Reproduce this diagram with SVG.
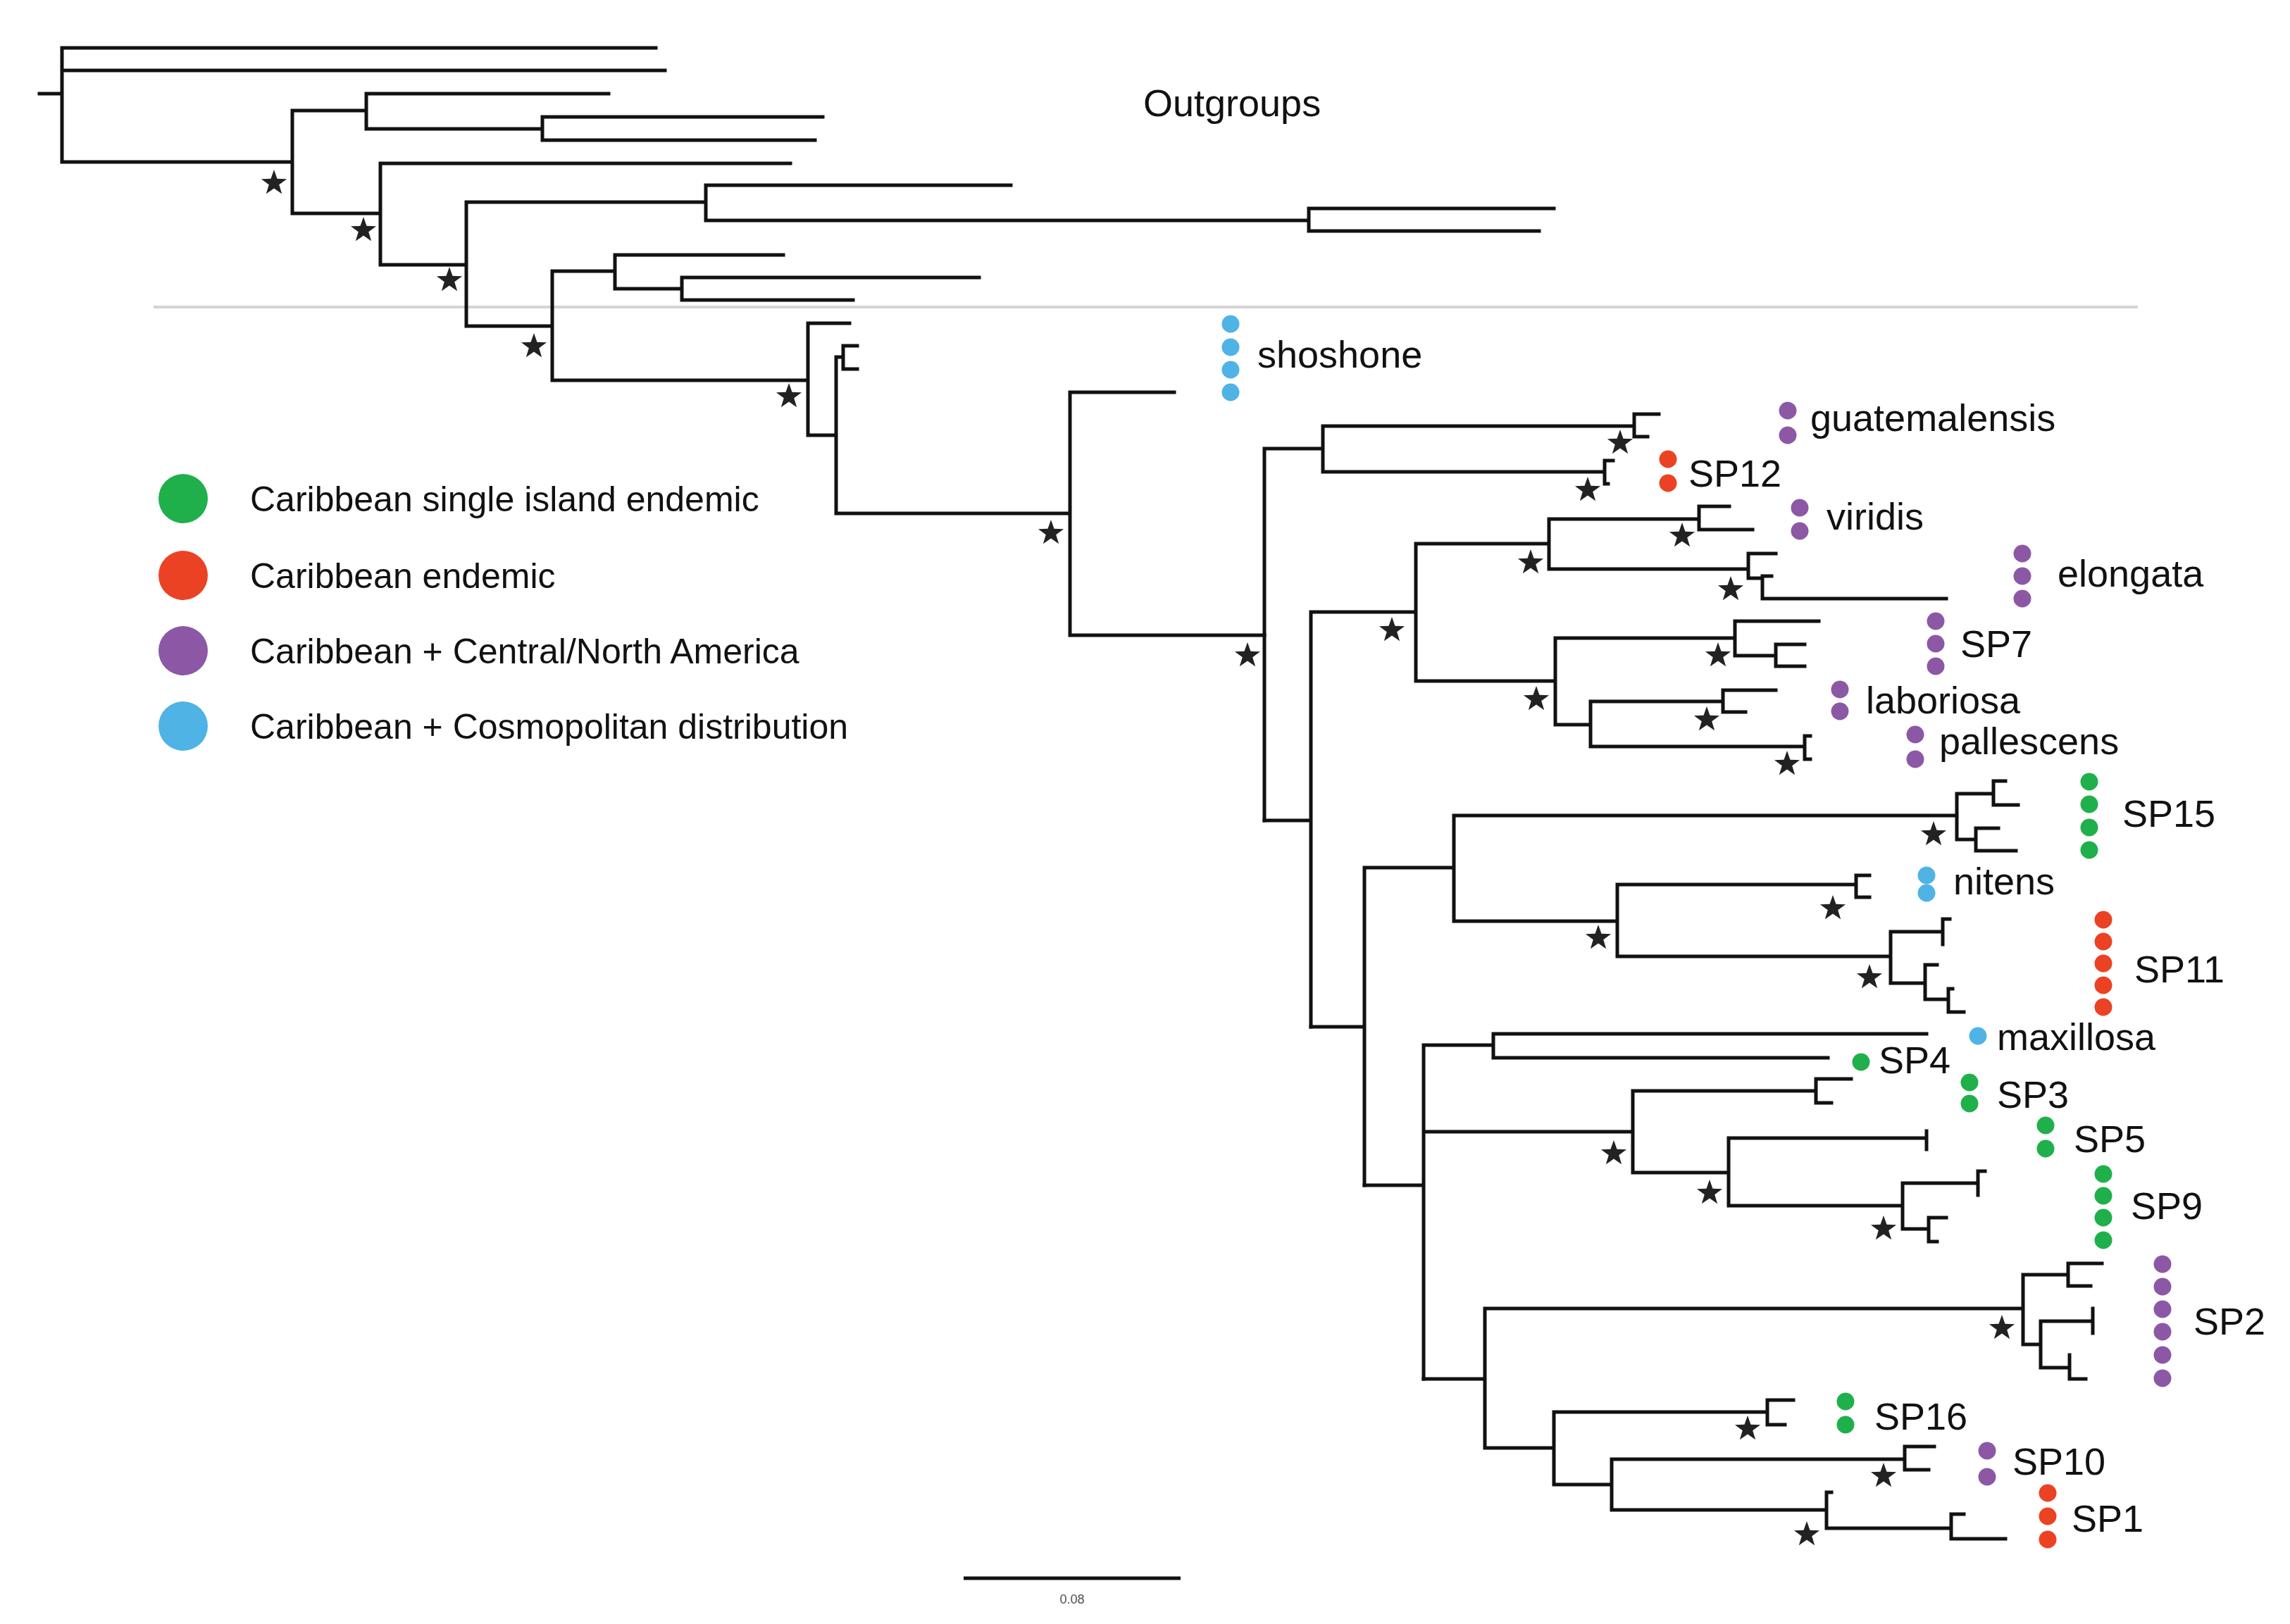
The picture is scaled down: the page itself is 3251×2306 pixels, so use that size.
<svg xmlns="http://www.w3.org/2000/svg" xmlns:xlink="http://www.w3.org/1999/xlink" width="3251" height="2306" viewBox="0 0 3251 2306">
<style>
.br{fill:none;stroke:#111;stroke-width:5;stroke-linecap:square}
.lab{font-family:"Liberation Sans",Arial,Helvetica,sans-serif;font-size:54px;fill:#111}
.leg{font-family:"Liberation Sans",Arial,Helvetica,sans-serif;font-size:50px;fill:#111}
.g{fill:#20b04b}.r{fill:#ec4224}.p{fill:#8c58a6}.b{fill:#4fb3e5}
</style>
<defs>
<path id="star" d="M0,-19 L4.47,-6.15 L18.07,-5.87 L7.23,2.35 L11.17,15.37 L0,7.6 L-11.17,15.37 L-7.23,2.35 L-18.07,-5.87 L-4.47,-6.15 Z" fill="#222"/>
</defs>
<rect width="3251" height="2306" fill="#fff"/>
<line x1="218" y1="436" x2="3035" y2="436" stroke="#d4d4d4" stroke-width="4"/>
<g id="connectors" class="br">
<path d="M56,133H88 M88,68V230 M88,68H931 M88,100H944 M88,230H415 M415,157V303 M415,157H520 M520,133V183 M520,133H864 M520,183H770 M770,166V199 M770,166H1168 M770,199H1157 M415,303H540 M540,232V376 M540,232H1122 M540,376H662 M662,287V463 M662,287H1002 M1002,263V313 M1002,263H1435 M1002,313H1858 M1858,296V328 M1858,296H2206 M1858,328H2185 M662,463H784 M784,385V540 M784,385H873 M873,362V410 M873,362H1112 M873,410H968 M968,394V426 M968,394H1390 M968,426H1211 M784,540H1147 M1147,459V618 M1147,459H1206 M1147,618H1187 M1187,507V729 M1187,507H1197 M1197,491V524 M1197,491H1217 M1197,524H1217 M1187,729H1519 M1519,557V902 M1519,557H1667 M1519,902H1795"/>
<path d="M1795,637V1165 M1795,637H1878 M1878,605V670 M1878,605H2320 M2320,588V620 M2320,588H2355 M2320,620H2339 M1878,670H2278 M2278,654V687 M2278,654H2290 M2278,687H2283"/>
<path d="M1795,1165H1861 M1861,869V1458 M1861,869H2010 M2010,772V967 M2010,772H2199 M2199,737V808 M2199,737H2412 M2412,719V752 M2412,719H2455 M2412,752H2488 M2199,808H2482 M2482,786V821 M2482,786H2521 M2482,821H2502 M2502,818V850 M2502,818H2515 M2502,850H2763 M2010,967H2208 M2208,906V1029 M2208,906H2463 M2463,882V931 M2463,882H2582 M2463,931H2521 M2521,915V946 M2521,915H2562 M2521,946H2562 M2208,1029H2258 M2258,996V1060 M2258,996H2446 M2446,980V1011 M2446,980H2521 M2446,1011H2478 M2258,1060H2562 M2562,1045V1078 M2562,1045H2570 M2562,1078H2570"/>
<path d="M1861,1458H1937 M1937,1232V1683 M1937,1232H2064 M2064,1158V1308 M2064,1158H2778 M2778,1127V1192 M2778,1127H2830 M2830,1109V1143 M2830,1109H2847 M2830,1143H2865 M2778,1192H2805 M2805,1176V1208 M2805,1176H2837 M2805,1208H2862 M2064,1308H2296 M2296,1256V1358 M2296,1256H2635 M2635,1243V1274 M2635,1243H2654 M2635,1274H2654 M2296,1358H2684 M2684,1323V1396 M2684,1323H2758 M2758,1305V1341 M2758,1305H2768 M2684,1396H2733 M2733,1370V1419 M2733,1370H2750 M2733,1419H2766 M2766,1404V1437 M2766,1404H2772 M2766,1437H2788"/>
<path d="M1937,1683H2021 M2021,1484V1958 M2021,1484H2120 M2120,1468V1502 M2120,1468H2735 M2120,1502H2595 M2021,1607H2318 M2318,1549V1665 M2318,1549H2578 M2578,1532V1566 M2578,1532H2628 M2578,1566H2600 M2318,1665H2454 M2454,1616V1712 M2454,1616H2735 M2735,1606V1632 M2454,1712H2701 M2701,1680V1745 M2701,1680H2808 M2808,1663V1697 M2808,1663H2818 M2701,1745H2738 M2738,1729V1763 M2738,1729H2763 M2738,1763H2750"/>
<path d="M2021,1958H2108 M2108,1858V2056 M2108,1858H2872 M2872,1810V1909 M2872,1810H2936 M2936,1794V1826 M2936,1794H2984 M2936,1826H2968 M2872,1909H2897 M2897,1876V1942 M2897,1876H2971 M2971,1858V1893 M2897,1942H2938 M2938,1924V1958 M2938,1958H2961 M2108,2056H2206 M2206,2005V2108 M2206,2005H2509 M2509,1988V2023 M2509,1988H2546 M2509,2023H2534 M2206,2108H2288 M2288,2072V2144 M2288,2072H2704 M2704,2054V2087 M2704,2054H2746 M2704,2087H2738 M2288,2144H2593 M2593,2119V2170 M2593,2119H2600 M2593,2170H2770 M2770,2150V2185 M2770,2150H2788 M2770,2185H2847"/>
</g>
<g id="support">
<use xlink:href="#star" x="389" y="260"/><use xlink:href="#star" x="516" y="327"/><use xlink:href="#star" x="638" y="398"/><use xlink:href="#star" x="758" y="492"/><use xlink:href="#star" x="1120" y="563"/><use xlink:href="#star" x="1492" y="757"/><use xlink:href="#star" x="1771" y="931"/>
<use xlink:href="#star" x="2300" y="629"/><use xlink:href="#star" x="2254" y="696"/><use xlink:href="#star" x="1976" y="895"/><use xlink:href="#star" x="2173" y="799"/><use xlink:href="#star" x="2388" y="761"/><use xlink:href="#star" x="2457" y="837"/><use xlink:href="#star" x="2181" y="993"/><use xlink:href="#star" x="2439" y="931"/><use xlink:href="#star" x="2423" y="1022"/><use xlink:href="#star" x="2537" y="1085"/>
<use xlink:href="#star" x="2745" y="1185"/><use xlink:href="#star" x="2269" y="1332"/><use xlink:href="#star" x="2602" y="1290"/><use xlink:href="#star" x="2654" y="1388"/><use xlink:href="#star" x="2291" y="1638"/><use xlink:href="#star" x="2427" y="1694"/><use xlink:href="#star" x="2674" y="1745"/><use xlink:href="#star" x="2842" y="1886"/><use xlink:href="#star" x="2481" y="2029"/><use xlink:href="#star" x="2674" y="2096"/><use xlink:href="#star" x="2565" y="2179"/>
</g>
<g id="outgroups-label"><text class="lab" x="1623" y="165">Outgroups</text></g>
<g id="shoshone"><circle class="b" cx="1747" cy="460" r="12.5"/><circle class="b" cx="1747" cy="493" r="12.5"/><circle class="b" cx="1747" cy="525" r="12.5"/><circle class="b" cx="1747" cy="557" r="12.5"/><text class="lab" x="1785" y="522">shoshone</text></g>
<g id="guatemalensis"><circle class="p" cx="2538" cy="583" r="12.5"/><circle class="p" cx="2538" cy="618" r="12.5"/><text class="lab" x="2570" y="612">guatemalensis</text></g>
<g id="SP12"><circle class="r" cx="2368" cy="652" r="12.5"/><circle class="r" cx="2368" cy="686" r="12.5"/><text class="lab" x="2397" y="691">SP12</text></g>
<g id="viridis"><circle class="p" cx="2555" cy="721" r="12.5"/><circle class="p" cx="2555" cy="754" r="12.5"/><text class="lab" x="2593" y="752">viridis</text></g>
<g id="elongata"><circle class="p" cx="2871" cy="786" r="12.5"/><circle class="p" cx="2871" cy="818" r="12.5"/><circle class="p" cx="2871" cy="850" r="12.5"/><text class="lab" x="2921" y="833">elongata</text></g>
<g id="SP7"><circle class="p" cx="2748" cy="882" r="12.5"/><circle class="p" cx="2748" cy="914" r="12.5"/><circle class="p" cx="2748" cy="946" r="12.5"/><text class="lab" x="2783" y="933">SP7</text></g>
<g id="laboriosa"><circle class="p" cx="2612" cy="979" r="12.5"/><circle class="p" cx="2612" cy="1010" r="12.5"/><text class="lab" x="2649" y="1013">laboriosa</text></g>
<g id="pallescens"><circle class="p" cx="2719" cy="1043" r="12.5"/><circle class="p" cx="2719" cy="1078" r="12.5"/><text class="lab" x="2753" y="1071">pallescens</text></g>
<g id="SP15"><circle class="g" cx="2966" cy="1110" r="12.5"/><circle class="g" cx="2966" cy="1142" r="12.5"/><circle class="g" cx="2966" cy="1175" r="12.5"/><circle class="g" cx="2966" cy="1207" r="12.5"/><text class="lab" x="3013" y="1174">SP15</text></g>
<g id="nitens"><circle class="b" cx="2735" cy="1243" r="12.5"/><circle class="b" cx="2735" cy="1268" r="12.5"/><text class="lab" x="2773" y="1270">nitens</text></g>
<g id="SP11"><circle class="r" cx="2986" cy="1306" r="12.5"/><circle class="r" cx="2986" cy="1337" r="12.5"/><circle class="r" cx="2986" cy="1368" r="12.5"/><circle class="r" cx="2986" cy="1399" r="12.5"/><circle class="r" cx="2986" cy="1430" r="12.5"/><text class="lab" x="3030" y="1395">SP11</text></g>
<g id="maxillosa"><circle class="b" cx="2808" cy="1471" r="12.5"/><text class="lab" x="2835" y="1491">maxillosa</text></g>
<g id="SP4"><circle class="g" cx="2642" cy="1508" r="12.5"/><text class="lab" x="2667" y="1524">SP4</text></g>
<g id="SP3"><circle class="g" cx="2796" cy="1537" r="12.5"/><circle class="g" cx="2796" cy="1567" r="12.5"/><text class="lab" x="2835" y="1573">SP3</text></g>
<g id="SP5"><circle class="g" cx="2904" cy="1598" r="12.5"/><circle class="g" cx="2904" cy="1631" r="12.5"/><text class="lab" x="2944" y="1636">SP5</text></g>
<g id="SP9"><circle class="g" cx="2986" cy="1667" r="12.5"/><circle class="g" cx="2986" cy="1698" r="12.5"/><circle class="g" cx="2986" cy="1729" r="12.5"/><circle class="g" cx="2986" cy="1761" r="12.5"/><text class="lab" x="3025" y="1731">SP9</text></g>
<g id="SP2"><circle class="p" cx="3070" cy="1795" r="12.5"/><circle class="p" cx="3070" cy="1827" r="12.5"/><circle class="p" cx="3070" cy="1859" r="12.5"/><circle class="p" cx="3070" cy="1891" r="12.5"/><circle class="p" cx="3070" cy="1924" r="12.5"/><circle class="p" cx="3070" cy="1957" r="12.5"/><text class="lab" x="3114" y="1895">SP2</text></g>
<g id="SP16"><circle class="g" cx="2620" cy="1990" r="12.5"/><circle class="g" cx="2620" cy="2023" r="12.5"/><text class="lab" x="2661" y="2030">SP16</text></g>
<g id="SP10"><circle class="p" cx="2821" cy="2060" r="12.5"/><circle class="p" cx="2821" cy="2097" r="12.5"/><text class="lab" x="2857" y="2094">SP10</text></g>
<g id="SP1"><circle class="r" cx="2907" cy="2120" r="12.5"/><circle class="r" cx="2907" cy="2153" r="12.5"/><circle class="r" cx="2907" cy="2186" r="12.5"/><text class="lab" x="2941" y="2175">SP1</text></g>
<g id="legend">
<circle class="g" cx="260" cy="708" r="35"/><text class="leg" x="355" y="726">Caribbean single island endemic</text>
<circle class="r" cx="260" cy="817" r="35"/><text class="leg" x="355" y="835">Caribbean endemic</text>
<circle class="p" cx="260" cy="924" r="35"/><text class="leg" x="355" y="942">Caribbean + Central/North America</text>
<circle class="b" cx="260" cy="1031" r="35"/><text class="leg" x="355" y="1049">Caribbean + Cosmopolitan distribution</text>
</g>
<g id="scale-bar">
<line x1="1368" y1="2241" x2="1676" y2="2241" stroke="#111" stroke-width="5"/>
<text x="1522" y="2277" text-anchor="middle" font-family="Liberation Sans,Arial,sans-serif" font-size="18" fill="#555">0.08</text>
</g>
</svg>
